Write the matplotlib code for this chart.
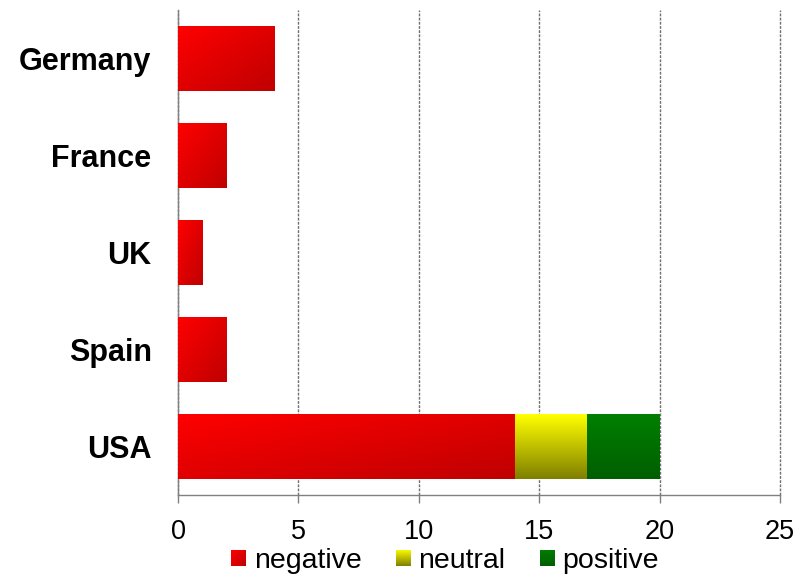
import numpy as np
import matplotlib
matplotlib.use("Agg")
import matplotlib.pyplot as plt
from matplotlib.patches import Patch

plt.rcParams['font.family'] = ['Liberation Sans', 'DejaVu Sans']

countries = ['Germany', 'France', 'UK', 'Spain', 'USA']
negative = [4, 2, 1, 2, 14]
neutral = [0, 0, 0, 0, 3]
positive = [0, 0, 0, 0, 3]
series_names = ['negative', 'neutral', 'positive']
x_ticks = [0, 5, 10, 15, 20, 25]

# gradient end colours (light, dark) and direction per series
grad = {
    'negative': ((1.0, 0.0, 0.0), (0.75, 0.0, 0.0), 'diag'),
    'neutral': ((1.0, 1.0, 0.0), (0.5, 0.5, 0.0), 'vert'),
    'positive': ((0.0, 0.5, 0.0), (0.0, 0.37, 0.0), 'vert'),
}


def gradient_img(name, n=64):
    c1, c2, kind = grad[name]
    u, v = np.meshgrid(np.linspace(0, 1, n), np.linspace(0, 1, n))
    if kind == 'diag':
        t = (u + v) / 2
    else:
        t = v
    c1 = np.array(c1)
    c2 = np.array(c2)
    return c1 + (c2 - c1) * t[..., None]


fig = plt.figure(figsize=(8.08, 5.76), dpi=100)
ax = fig.add_axes([178 / 808, 81 / 576, 602 / 808, 485 / 576])

y = np.arange(len(countries))
h = 0.67
left = np.zeros(len(countries))
for name, vals in zip(series_names, [negative, neutral, positive]):
    bars = ax.barh(y, vals, height=h, left=left, color='none', edgecolor='none', zorder=3)
    for b in bars:
        if b.get_width() <= 0:
            continue
        x0, y0 = b.get_x(), b.get_y()
        ax.imshow(gradient_img(name), extent=(x0, x0 + b.get_width(), y0 + h, y0),
                  origin='upper', aspect='auto', zorder=3, interpolation='bilinear')
    left = left + np.array(vals)

ax.set_xlim(0, 25)
ax.set_ylim(len(countries) - 0.5, -0.5)
ax.set_aspect('auto')
ax.set_yticks(y)
ax.set_yticklabels(countries, fontsize=22, fontweight='bold')
ax.set_xticks(x_ticks)
ax.set_xticklabels([str(t) for t in x_ticks], fontsize=19.5)
ax.tick_params(axis='y', length=0, pad=19)
ax.tick_params(axis='x', length=6, width=1, color='#808080', pad=11, direction='out')

ax.grid(axis='x', linestyle=(0, (2, 1)), color='#707070', linewidth=1.0, zorder=1)
ax.set_axisbelow(True)
for gl in ax.get_xgridlines():
    gl.set_clip_on(False)
for s in ['top', 'right']:
    ax.spines[s].set_visible(False)
for s in ['left', 'bottom']:
    ax.spines[s].set_color('#808080')
    ax.spines[s].set_linewidth(1)
    ax.spines[s].set_zorder(2)

handles = [Patch(facecolor='none', edgecolor='none', label=n) for n in series_names]
leg = fig.legend(handles=handles, loc='center', bbox_to_anchor=(445 / 808, 15 / 576),
                 ncol=3, frameon=False, fontsize=20.5, handlelength=0.5, handleheight=0.5,
                 handletextpad=0.3, columnspacing=1.2, borderaxespad=0, borderpad=0)

# paint gradient squares into the legend handles
fig.canvas.draw()
inv = fig.transFigure.inverted()
for hp, name in zip(leg.legend_handles, series_names):
    bb = hp.get_window_extent().transformed(inv)
    hax = fig.add_axes([bb.x0, bb.y0, bb.width, bb.height])
    hax.imshow(gradient_img(name), aspect='auto', interpolation='bilinear')
    hax.set_axis_off()

fig.savefig('out.png', dpi=100)
